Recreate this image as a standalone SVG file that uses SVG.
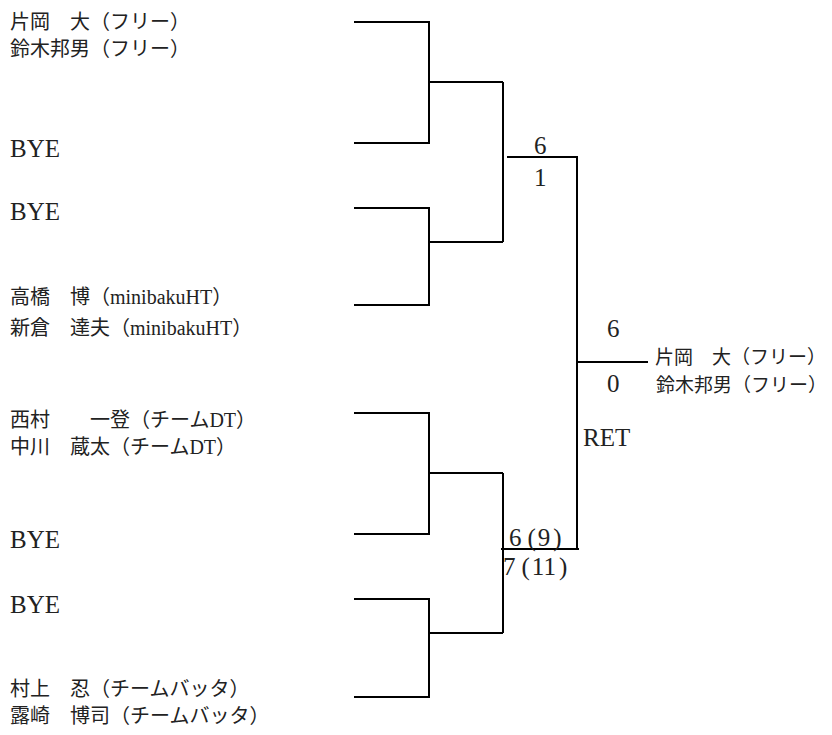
<svg xmlns="http://www.w3.org/2000/svg" width="832" height="735" viewBox="0 0 832 735">
<style>
.ln{fill:none;stroke:#000;stroke-width:2}
.nm{font-family:"Liberation Serif","Noto Sans CJK JP",serif;font-size:20px;fill:#222}
.rt{font-family:"Liberation Serif","Noto Sans CJK JP",serif;font-size:19px;fill:#222}
.lt{font-family:"Liberation Serif","Noto Sans CJK JP",serif;font-size:25px;fill:#222}
</style>
<rect width="832" height="735" fill="#fff"/>
<g id="connectors">
<path class="ln" d="M354,22H429V143H354M429,82H503"/>
<path class="ln" d="M354,208H429V305H354M429,242H503"/>
<path class="ln" d="M503,82V242"/>
<path class="ln" d="M354,413H429V534H354M429,473H503"/>
<path class="ln" d="M354,599H429V697H354M429,633H503"/>
<path class="ln" d="M503,473V633"/>
<path class="ln" d="M507,157H577V549M501,549H579"/>
<path class="ln" d="M577,362H648"/>
</g>
<g id="entry1"><text class="nm" x="10" y="29">片岡　大（フリー）</text><text class="nm" x="10" y="56">鈴木邦男（フリー）</text></g>
<g id="entry2"><text class="lt" x="10" y="157">BYE</text></g>
<g id="entry3"><text class="lt" x="10" y="220">BYE</text></g>
<g id="entry4"><text class="nm" x="10" y="304">高橋　博（minibakuHT）</text><text class="nm" x="10" y="335">新倉　達夫（minibakuHT）</text></g>
<g id="entry5"><text class="nm" x="10" y="427">西村　　一登（チームDT）</text><text class="nm" x="10" y="454">中川　蔵太（チームDT）</text></g>
<g id="entry6"><text class="lt" x="10" y="548">BYE</text></g>
<g id="entry7"><text class="lt" x="10" y="613">BYE</text></g>
<g id="entry8"><text class="nm" x="10" y="696">村上　忍（チームバッタ）</text><text class="nm" x="10" y="723">露崎　博司（チームバッタ）</text></g>
<g id="score1"><text class="lt" x="534" y="154">6</text><text class="lt" x="534" y="186">1</text></g>
<g id="score2"><text class="lt" x="509" y="546">6<tspan dx="6">(</tspan><tspan dx="2">9</tspan><tspan dx="3">)</tspan></text><text class="lt" x="503" y="575">7<tspan dx="6">(</tspan><tspan dx="2">11</tspan><tspan dx="3">)</tspan></text></g>
<g id="final"><text class="lt" x="607" y="337">6</text><text class="lt" x="607" y="392">0</text><text class="lt" x="583" y="446">RET</text></g>
<g id="winner"><text class="rt" x="655" y="364">片岡　大（フリー）</text><text class="rt" x="656" y="392">鈴木邦男（フリー）</text></g>
</svg>
